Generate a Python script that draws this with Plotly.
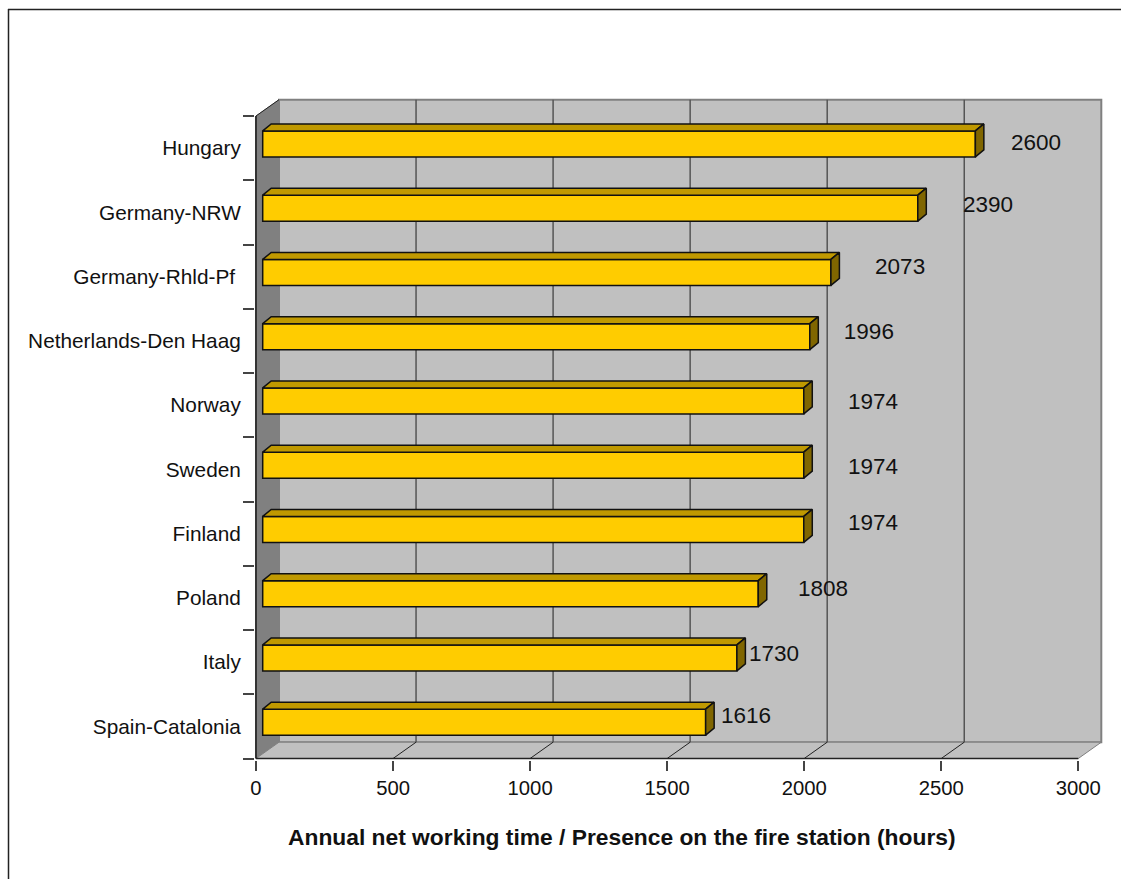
import plotly.graph_objects as go

categories = ["Hungary", "Germany-NRW", "Germany-Rhld-Pf\u00a0", "Netherlands-Den Haag", "Norway",
              "Sweden", "Finland", "Poland", "Italy", "Spain-Catalonia"]
hours = [2600, 2390, 2073, 1996, 1974, 1974, 1974, 1808, 1730, 1616]
x_ticks = [0, 500, 1000, 1500, 2000, 2500, 3000]
x_title = "Annual net working time / Presence on the fire station (hours)"

# hand placement of the data labels relative to the bar end (hours, bands)
label_dx = [246, 281, 277, 240, 277, 277, 277, 261, 160, 172]
label_dy = [-0.056, -0.092, -0.126, -0.115, -0.025, -0.014, -0.142, -0.115, -0.103, -0.138]

W, H = 1121, 879
PXH, PXB = 0.2741, 64.25           # px per hour, px per band
X0, Y0 = 256.0, 116.0              # pixel of hour 0 and of the top band edge
L, R, T, B = 255, 1104, 98, 760    # plot box in pixels

xr = [(L - X0) / PXH, (R - X0) / PXH]
yb = lambda p: (p - Y0) / PXB - 0.5
yr = [yb(B), yb(T)]

DX, DY = 23.0 / PXH, 16.3 / PXB    # depth of the walls
BDX, BDY = 8.5 / PXH, 7.0 / PXB    # depth of the bars
BASE = 6.7 / PXH                   # front face start
B_OFF, B_W = -0.268, 0.405
XMAX, Y_TOP, Y_BOT = 3000, -0.5, 9.5


def path(pts):
    return "M " + " L ".join(f"{a},{b}" for a, b in pts) + " Z"


def seg(x0, y0, x1, y1, color, width):
    return dict(type="line", x0=x0, y0=y0, x1=x1, y1=y1, xref="x", yref="y", layer="below",
                line=dict(color=color, width=width))


def px(p):
    return (p - L) / (R - L)


def py(p):
    return 1 - (p - T) / (B - T)


shapes = [
    dict(type="path", xref="x", yref="y", layer="below", fillcolor="#C0C0C0",
         line=dict(color="#808080", width=2),
         path=path([(DX, Y_TOP - DY), (XMAX + DX, Y_TOP - DY), (XMAX + DX, Y_BOT - DY), (DX, Y_BOT - DY)])),
    dict(type="path", xref="x", yref="y", layer="below", fillcolor="#808080",
         line=dict(color="#808080", width=1),
         path=path([(0, Y_TOP), (DX, Y_TOP - DY), (DX, Y_BOT - DY), (0, Y_BOT)])),
    dict(type="path", xref="x", yref="y", layer="below", fillcolor="#C0C0C0",
         line=dict(color="#808080", width=1),
         path=path([(0, Y_BOT), (DX, Y_BOT - DY), (XMAX + DX, Y_BOT - DY), (XMAX, Y_BOT)])),
    seg(0, Y_TOP, DX, Y_TOP - DY, "#222222", 1),
    seg(0, Y_TOP, 0, Y_BOT, "#333333", 2),
    seg(0, Y_BOT, XMAX, Y_BOT, "#222222", 1.5),
]
for t in x_ticks[1:-1]:
    shapes.append(seg(t + DX, Y_TOP - DY, t + DX, Y_BOT - DY, "#555555", 1.5))
    shapes.append(seg(t, Y_BOT, t + DX, Y_BOT - DY, "#222222", 1))
# outer frame of the chart: only left and top edges are visible
shapes.append(dict(type="line", xref="paper", yref="paper", x0=px(8.5), x1=px(8.5), y0=py(H), y1=py(9),
                   line=dict(color="#222222", width=1.5)))
shapes.append(dict(type="line", xref="paper", yref="paper", x0=px(8), x1=px(W), y0=py(9.5), y1=py(9.5),
                   line=dict(color="#222222", width=1.5)))

idx = list(range(len(hours)))
fig = go.Figure()
fig.add_trace(go.Bar(y=idx, x=hours, base=BASE, orientation="h", width=B_W, offset=B_OFF,
                     marker=dict(color="#FFCC00", line=dict(color="#111111", width=1.5)), hoverinfo="skip"))

top_x, top_y, side_x, side_y = [], [], [], []
for i, v in zip(idx, hours):
    a, b = i + B_OFF, i + B_OFF + B_W
    e = BASE + v
    top_x += [BASE, BASE + BDX, e + BDX, e, BASE, None]
    top_y += [a, a - BDY, a - BDY, a, a, None]
    side_x += [e, e + BDX, e + BDX, e, e, None]
    side_y += [a, a - BDY, b - BDY, b, a, None]
fig.add_trace(go.Scatter(x=top_x, y=top_y, mode="lines", fill="toself", fillcolor="#C09900",
                         line=dict(color="#111111", width=1.5), hoverinfo="skip"))
fig.add_trace(go.Scatter(x=side_x, y=side_y, mode="lines", fill="toself", fillcolor="#806600",
                         line=dict(color="#111111", width=1.5), hoverinfo="skip"))
fig.add_trace(go.Scatter(x=[v + d for v, d in zip(hours, label_dx)],
                         y=[i + d for i, d in zip(idx, label_dy)],
                         text=[str(v) for v in hours], mode="text", textposition="middle center",
                         textfont=dict(family="Liberation Sans", size=22.5, color="#111111"),
                         hoverinfo="skip", cliponaxis=False))

fig.update_layout(
    width=W, height=H, showlegend=False, paper_bgcolor="#FFFFFF", plot_bgcolor="rgba(0,0,0,0)",
    margin=dict(l=L, r=W - R, t=T, b=H - B, pad=0),
    font=dict(family="Liberation Sans", color="#111111"),
    shapes=shapes,
    xaxis=dict(range=xr, tickmode="array", tickvals=x_ticks, ticktext=[str(t) for t in x_ticks],
               ticks="outside", ticklen=10, tickwidth=1.5, tickcolor="#444444", showgrid=False,
               zeroline=False, showline=False, tickfont=dict(size=20.3, family="Liberation Sans")),
    yaxis=dict(range=yr, tickmode="array", tickvals=idx, ticktext=categories, ticks="outside",
               ticklen=9, tickcolor="rgba(0,0,0,0)", showgrid=False, zeroline=False, showline=False,
               tickfont=dict(size=20.8, family="Liberation Sans"),
               minor=dict(tickmode="array", tickvals=[i - 0.5 for i in idx] + [idx[-1] + 0.5],
                          ticks="outside", ticklen=11, tickwidth=1.5, tickcolor="#444444", showgrid=False)),
    annotations=[dict(text=f"<b>{x_title}</b>", xref="paper", yref="paper", x=px(622),
                      y=py(837), xanchor="center", yanchor="middle", showarrow=False,
                      font=dict(size=22.8, family="Liberation Sans", color="#111111"))],
)
fig.write_html("out.html", config={"displayModeBar": False},
               post_script="document.body.style.margin='0';document.body.style.overflow='hidden';")
